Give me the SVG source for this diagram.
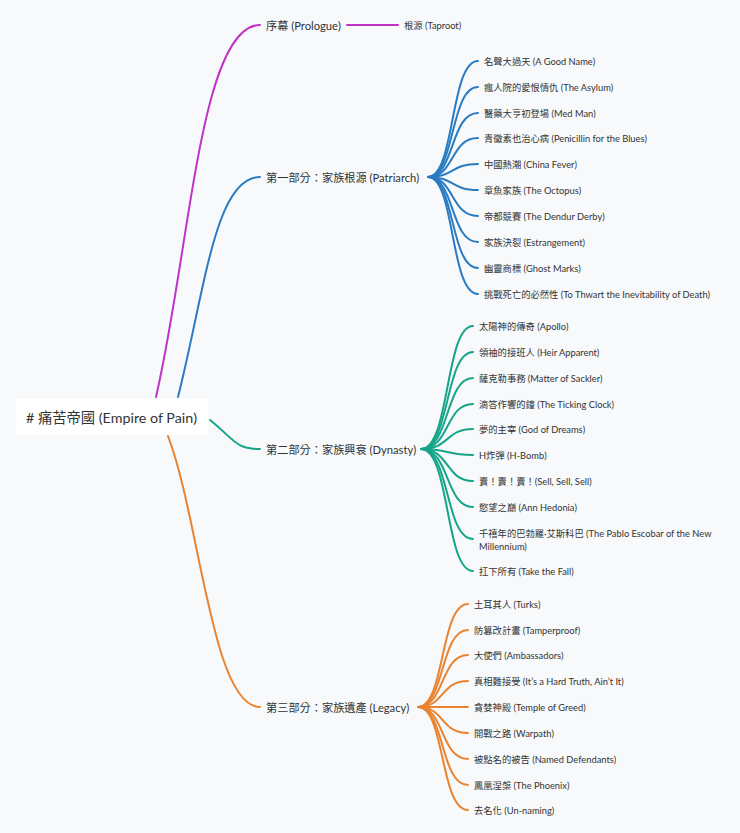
<svg xmlns="http://www.w3.org/2000/svg" width="740" height="833" viewBox="0 0 740 833">
<style>
text{font-family:Lato,"Noto Sans CJK TC","Noto Sans",sans-serif;fill:#333;dominant-baseline:central}
.l1{font-size:11.2px}.l2{font-size:9.3px}
.c path{fill:none;stroke-width:2;stroke-linecap:round}
.p{stroke:#bf34c6}.b{stroke:#2a7cc2}.g{stroke:#17a58a}.o{stroke:#ea8330}
</style>
<rect width="740" height="833" fill="#f7f9fb"/>
<g class="c" id="connectors">
<path class="p" d="M156,397 C190,250 200,25 260,25"/>
<path class="p" d="M347,25 H398"/>
<path class="b" d="M178,397 C205,290 215,177 260,177"/>
<path class="g" d="M210,420 C235,440 235,449 260,449"/>
<path class="o" d="M168,436 C200,520 212,707 260,707"/>
<g class="b">
<path d="M428,177 C455,177 450,61 478,61"/><path d="M428,177 C455,177 450,87 478,87"/><path d="M428,177 C455,177 450,113 478,113"/><path d="M428,177 C455,177 450,138 478,138"/><path d="M428,177 C455,177 450,164 478,164"/><path d="M428,177 C455,177 450,190 478,190"/><path d="M428,177 C455,177 450,216 478,216"/><path d="M428,177 C455,177 450,242 478,242"/><path d="M428,177 C455,177 450,268 478,268"/><path d="M428,177 C455,177 450,294 478,294"/>
</g>
<g class="g">
<path d="M421,449 C450,449 445,326 473,326"/><path d="M421,449 C450,449 445,352 473,352"/><path d="M421,449 C450,449 445,378 473,378"/><path d="M421,449 C450,449 445,404 473,404"/><path d="M421,449 C450,449 445,429 473,429"/><path d="M421,449 C450,449 445,455 473,455"/><path d="M421,449 C450,449 445,481 473,481"/><path d="M421,449 C450,449 445,507 473,507"/><path d="M421,449 C450,449 445,539 473,539"/><path d="M421,449 C450,449 445,571 473,571"/>
</g>
<g class="o">
<path d="M418,707 C445,707 440,604 468,604"/><path d="M418,707 C445,707 440,630 468,630"/><path d="M418,707 C445,707 440,655 468,655"/><path d="M418,707 C445,707 440,681 468,681"/><path d="M418,707 H468"/><path d="M418,707 C445,707 440,733 468,733"/><path d="M418,707 C445,707 440,759 468,759"/><path d="M418,707 C445,707 440,785 468,785"/><path d="M418,707 C445,707 440,810 468,810"/>
</g>
</g>
<g id="root"><rect x="16" y="399" width="192" height="36" fill="#fff"/><text x="26" y="417" style="font-size:14.3px">#&#160;痛苦帝國 (Empire of Pain)</text></g>
<g id="prologue"><text class="l1" x="266" y="25">序幕 (Prologue)</text><text class="l2" x="404" y="25">根源 (Taproot)</text></g>
<g id="part1"><text class="l1" x="266" y="177">第一部分：家族根源 (Patriarch)</text>
<text class="l2" x="484" y="61">名聲大過天 (A Good Name)</text>
<text class="l2" x="484" y="87">瘋人院的愛恨情仇 (The Asylum)</text>
<text class="l2" x="484" y="113">醫藥大亨初登場 (Med Man)</text>
<text class="l2" x="484" y="138">青黴素也治心病 (Penicillin for the Blues)</text>
<text class="l2" x="484" y="164">中國熱潮 (China Fever)</text>
<text class="l2" x="484" y="190">章魚家族 (The Octopus)</text>
<text class="l2" x="484" y="216">帝都競賽 (The Dendur Derby)</text>
<text class="l2" x="484" y="242">家族決裂 (Estrangement)</text>
<text class="l2" x="484" y="268">幽靈商標 (Ghost Marks)</text>
<text class="l2" x="484" y="294">挑戰死亡的必然性 (To Thwart the Inevitability of Death)</text>
</g>
<g id="part2"><text class="l1" x="266" y="449">第二部分：家族興衰 (Dynasty)</text>
<text class="l2" x="479" y="326">太陽神的傳奇 (Apollo)</text>
<text class="l2" x="479" y="352">領袖的接班人 (Heir Apparent)</text>
<text class="l2" x="479" y="378">薩克勒事務 (Matter of Sackler)</text>
<text class="l2" x="479" y="404">滴答作響的鐘 (The Ticking Clock)</text>
<text class="l2" x="479" y="429">夢的主宰 (God of Dreams)</text>
<text class="l2" x="479" y="455">H炸彈 (H-Bomb)</text>
<text class="l2" x="479" y="481">賣！賣！賣！(Sell, Sell, Sell)</text>
<text class="l2" x="479" y="507">慾望之巔 (Ann Hedonia)</text>
<text class="l2" x="479" y="533">千禧年的巴勃羅·艾斯科巴 (The Pablo Escobar of the New</text>
<text class="l2" x="479" y="546">Millennium)</text>
<text class="l2" x="479" y="571">扛下所有 (Take the Fall)</text>
</g>
<g id="part3"><text class="l1" x="266" y="707">第三部分：家族遺產 (Legacy)</text>
<text class="l2" x="474" y="604">土耳其人 (Turks)</text>
<text class="l2" x="474" y="630">防篡改計畫 (Tamperproof)</text>
<text class="l2" x="474" y="655">大使們 (Ambassadors)</text>
<text class="l2" x="474" y="681">真相難接受 (It’s a Hard Truth, Ain’t It)</text>
<text class="l2" x="474" y="707">貪婪神殿 (Temple of Greed)</text>
<text class="l2" x="474" y="733">開戰之路 (Warpath)</text>
<text class="l2" x="474" y="759">被點名的被告 (Named Defendants)</text>
<text class="l2" x="474" y="785">鳳凰涅槃 (The Phoenix)</text>
<text class="l2" x="474" y="810">去名化 (Un-naming)</text>
</g>
</svg>
